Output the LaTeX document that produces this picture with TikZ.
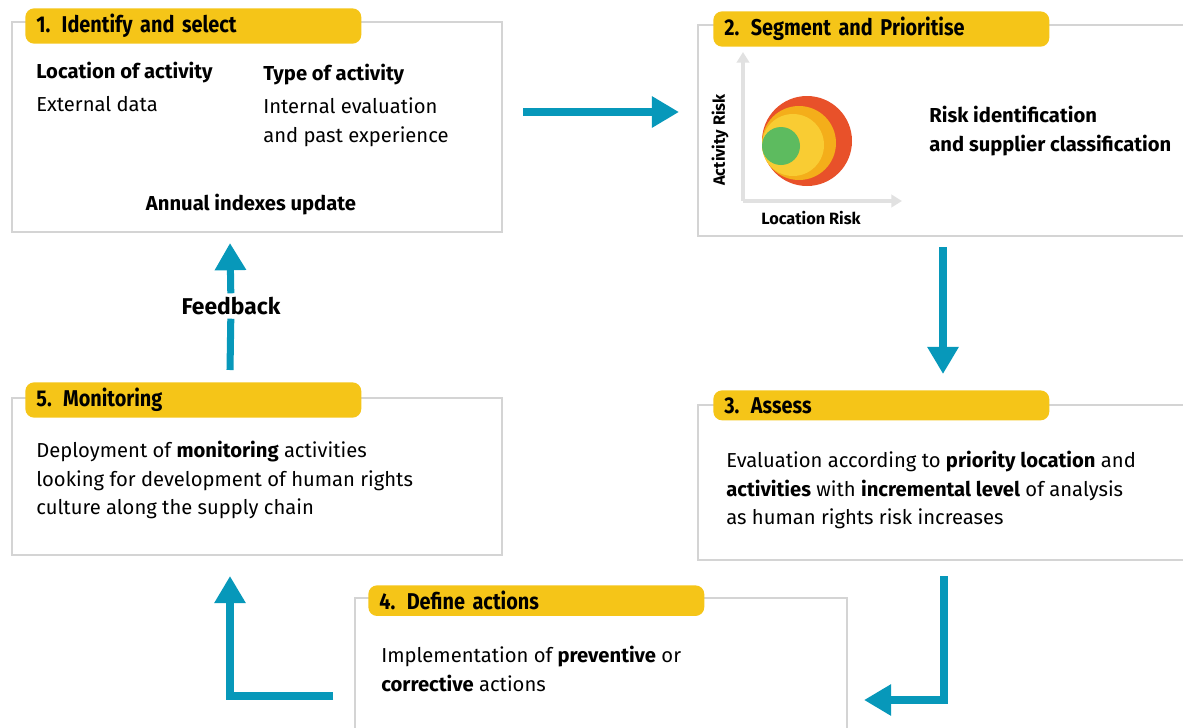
\documentclass[tikz,border=0pt]{standalone}
\usepackage{fontspec}
\setmainfont{Fira Sans}
\newfontfamily\condfont[FakeStretch=0.87]{Fira Sans}
\usepackage{xcolor}
\usetikzlibrary{arrows.meta}
\definecolor{barYellow}{HTML}{F5C518}
\definecolor{flowBlue}{HTML}{0798BA}
\definecolor{frameGray}{HTML}{D4D4D4}
\definecolor{riskRed}{HTML}{E8512A}
\definecolor{riskOrange}{HTML}{F4AE1A}
\definecolor{riskYellow}{HTML}{F9CC33}
\definecolor{riskGreen}{HTML}{5DBB5F}
\newcommand{\hb}[1]{{\bfseries #1}}
\tikzset{
  frame/.style={draw=frameGray, line width=0.8pt},
  titlebar/.style={fill=barYellow, rounded corners=5pt, anchor=north west,
    minimum width=6.72cm, minimum height=0.6cm, inner xsep=0.22cm,
    text width=6.28cm, align=left, font=\condfont\bfseries\fontsize{13}{15}\selectfont},
  body/.style={anchor=north west, inner sep=0pt, align=left,
    font=\fontsize{11.5}{16.2}\selectfont},
  axislabel/.style={font=\bfseries\fontsize{9.3}{11}\selectfont},
  flow/.style={draw=flowBlue, line width=4pt, line join=miter,
    -{Triangle[length=15.5pt,width=17pt]}},
  flowline/.style={draw=flowBlue, line width=4pt}
}
\begin{document}
\begin{tikzpicture}[x=0.02cm,y=-0.02cm]
  \useasboundingbox (0,0) rectangle (1183,727);
  \clip (0,0) rectangle (1183,727);
  % frames
  \draw[frame] (12,22) rectangle (502,232);
  \draw[frame] (1190,25) -- (698,25) -- (698,236) -- (1190,236);
  \draw[frame] (1190,405) -- (698,405) -- (698,560) -- (1190,560);
  \draw[frame] (12,398) rectangle (502,555);
  \draw[frame] (355,740) -- (355,598) -- (847,598) -- (847,740);
  % title bars
  \node[titlebar] (T1) at (25,8) {1. Identify and select};
  \node[titlebar] (T2) at (713,11) {2. Segment and Prioritise};
  \node[titlebar] (T3) at (713,390) {3. Assess};
  \node[titlebar, minimum height=0.56cm] (T4) at (368,585) {4. Define actions};
  \node[titlebar] (T5) at (25,382) {5. Monitoring};
  % box 1
  \node[body] (L1) at (36,62) {\hb{Location of activity}\\[2.5pt]External data};
  \node[body] (L2) at (263,64) {\hb{Type of activity}\\[2.5pt]Internal evaluation\\and past experience};
  \node[font=\bfseries\fontsize{11.5}{13}\selectfont] (L3) at (251,205) {Annual indexes update};
  % box 2
  \draw[frameGray!70, line width=2pt, -{Triangle[length=6pt,width=7pt]}] (743,201) -- (743,52);
  \draw[frameGray!70, line width=2pt, -{Triangle[length=6pt,width=7pt]}] (743,201) -- (902,201);
  \fill[riskRed] (807,141) circle (45);
  \fill[riskOrange] (799,143) circle (37);
  \fill[riskYellow] (793,145) circle (31);
  \fill[riskGreen] (781,146) circle (19);
  \node[axislabel, rotate=90] (R1) at (720,140) {Activity Risk};
  \node[axislabel] (R2) at (811,218) {Location Risk};
  \node[body, font=\bfseries\fontsize{11.5}{16.5}\selectfont] (R3) at (929,106) {Risk identification\\and supplier classification};
  % box 3
  \node[body] (A1) at (726,451) {Evaluation according to \hb{priority location} and\\\hb{activities} with \hb{incremental level} of analysis\\as human rights risk increases};
  % box 4
  \node[body] (D1) at (381,646) {Implementation of \hb{preventive} or\\\hb{corrective} actions};
  % box 5
  \node[body] (M1) at (36,441) {Deployment of \hb{monitoring} activities\\looking for development of human rights\\culture along the supply chain};
  % arrows
  \node[font=\bfseries\fontsize{13}{15}\selectfont, inner sep=2pt] (FB) at (231,306) {Feedback};
  \coordinate (P1) at (523,112);
  \coordinate (P2) at (679,112);
  \coordinate (P3) at (943,247);
  \coordinate (P4) at (943,374);
  \coordinate (P5) at (944,576);
  \coordinate (P6) at (944,700);
  \coordinate (P7) at (864,700);
  \coordinate (P8) at (333,696);
  \coordinate (P9) at (230,696);
  \coordinate (P10) at (230,576);
  \coordinate (P11) at (230,370);
  \coordinate (P12) at (230,243);
  \draw[flow] (P1) -- (P2);
  \draw[flow] (P3) -- (P4);
  \draw[flow] (P5) -- (P6) -- (P7);
  \draw[flow] (P8) -- (P9) -- (P10);
  \draw[flowline] (P11) -- (FB);
  \draw[flow] (FB) -- (P12);
\end{tikzpicture}
\end{document}
